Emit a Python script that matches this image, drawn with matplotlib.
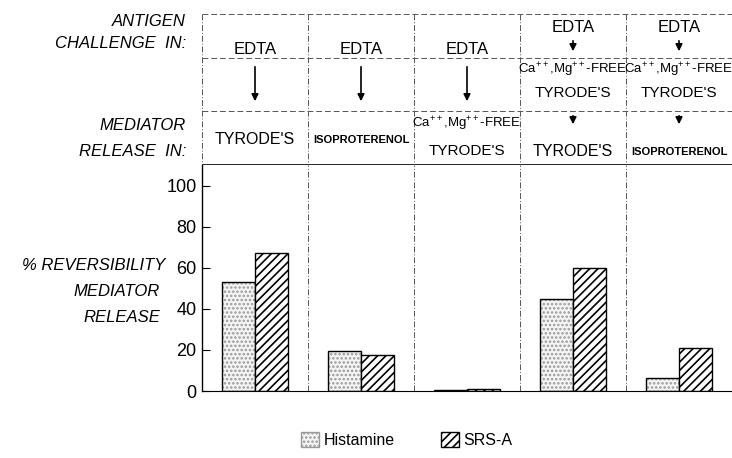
import numpy as np
import matplotlib
matplotlib.use('Agg')
from matplotlib import pyplot as plt
from matplotlib.patches import Patch

plt.rcParams['font.family'] = ['Liberation Sans', 'DejaVu Sans']
plt.rcParams['mathtext.fontset'] = 'custom'
plt.rcParams['mathtext.rm'] = 'Liberation Sans'
plt.rcParams['mathtext.it'] = 'Liberation Sans'
plt.rcParams['hatch.linewidth'] = 1.2

# data
histamine = [53, 19.5, 0.3, 45, 6.3]
srs_a = [67, 17.5, 1.0, 60, 21]
yticks = [0, 20, 40, 60, 80, 100]
challenge = ['EDTA', 'EDTA', 'EDTA', 'EDTA', 'EDTA']
release = ["TYRODE'S", 'ISOPROTERENOL', "Ca$^{++}$,Mg$^{++}$-FREE\nTYRODE'S",
           "TYRODE'S", 'ISOPROTERENOL']
free_line = "Ca$^{++}$,Mg$^{++}$-FREE"

W, H = 732, 458
fig = plt.figure(figsize=(7.32, 4.58), dpi=100)


def fx(px):
    return px / W


def fy(py):
    return 1 - py / H


x = np.arange(5)
w = 0.31

ax = fig.add_axes([fx(202), fy(391), fx(530), (391 - 165) / H])
# stipple for histamine, then outline on top
ax.bar(x - w / 2, histamine, w, facecolor='#f4f4f4', edgecolor='#999999',
       hatch='....', linewidth=0)
ax.bar(x - w / 2, histamine, w, fill=False, edgecolor='black', linewidth=1.0)
ax.bar(x + w / 2, srs_a, w, facecolor='white', edgecolor='black',
       hatch='////', linewidth=1.0)
ax.set_xlim(-0.5, 4.5)
ax.set_ylim(0, 110)
ax.set_yticks(yticks)
ax.set_xticks([])
ax.tick_params(axis='y', direction='in', length=6, labelsize=13, pad=4)
for s in ['top', 'right']:
    ax.spines[s].set_visible(False)
ax.spines['left'].set_linewidth(1.0)
ax.spines['bottom'].set_linewidth(0.8)
for d in x[:-1] + 0.5:
    ax.axvline(d, color='#555555', lw=0.7, ls=(0, (6, 2, 1, 2)))

# header panel, y in pixels
hx = fig.add_axes([fx(202), fy(165), fx(530), (165 - 14) / H])
hx.set_xlim(-0.5, 4.5)
hx.set_ylim(165, 14)
hx.axis('off')
for yy in [14, 58, 111]:
    hx.plot([-0.5, 4.5], [yy, yy], color='#555555', lw=0.7, ls=(0, (6, 3)))
hx.plot([-0.5, 4.5], [165, 165], color='black', lw=1.2)
for d in np.append(x[:-1] + 0.5, -0.5):
    hx.plot([d, d], [14, 165], color='#555555', lw=0.7, ls=(0, (6, 2, 1, 2)))

arrow = dict(arrowstyle='-|>', color='black', lw=1.2, mutation_scale=10)
for i in range(3):
    hx.text(i, 50, challenge[i], ha='center', va='center', fontsize=12)
    hx.annotate('', xy=(i, 104), xytext=(i, 64), arrowprops=arrow)
for i in range(3, 5):
    hx.text(i, 28, challenge[i], ha='center', va='center', fontsize=12)
    hx.annotate('', xy=(i, 54), xytext=(i, 38), arrowprops=arrow)
    hx.text(i, 70, free_line, ha='center', va='center', fontsize=9.5)
    hx.text(i, 93, "TYRODE'S", ha='center', va='center', fontsize=11)
    hx.annotate('', xy=(i, 127), xytext=(i, 113), arrowprops=arrow)

for i, lab in enumerate(release):
    yy = 140 if i < 3 else 152
    if lab == 'ISOPROTERENOL':
        hx.text(i, yy, lab, ha='center', va='center', fontsize=8,
                fontweight='bold')
    elif i == 2:
        top, bottom = lab.split('\n')
        hx.text(i, 124, top, ha='center', va='center', fontsize=9.5)
        hx.text(i, 151, bottom, ha='center', va='center', fontsize=11)
    else:
        hx.text(i, yy, lab, ha='center', va='center', fontsize=11.5)

# left labels
lab_kw = dict(ha='right', va='center', fontsize=12, style='italic')
fig.text(fx(186), fy(22), 'ANTIGEN', **lab_kw)
fig.text(fx(186), fy(43), 'CHALLENGE  IN:', **lab_kw)
fig.text(fx(186), fy(125), 'MEDIATOR', **lab_kw)
fig.text(fx(186), fy(152), 'RELEASE  IN:', **lab_kw)
fig.text(fx(165), fy(265), '% REVERSIBILITY', **lab_kw)
fig.text(fx(160), fy(291), 'MEDIATOR', **lab_kw)
fig.text(fx(160), fy(317), 'RELEASE', **lab_kw)

# legend
handles = [Patch(facecolor='#f4f4f4', edgecolor='#999999', hatch='....'),
           Patch(facecolor='white', edgecolor='black', hatch='////')]
fig.legend(handles, ['Histamine', 'SRS-A'], loc='center',
           bbox_to_anchor=(fx(407), fy(440)), ncol=2,
           frameon=False, fontsize=11.5, handlelength=1.1, handleheight=1.1,
           columnspacing=2.9, handletextpad=0.3)

fig.savefig('out.png', dpi=100)
